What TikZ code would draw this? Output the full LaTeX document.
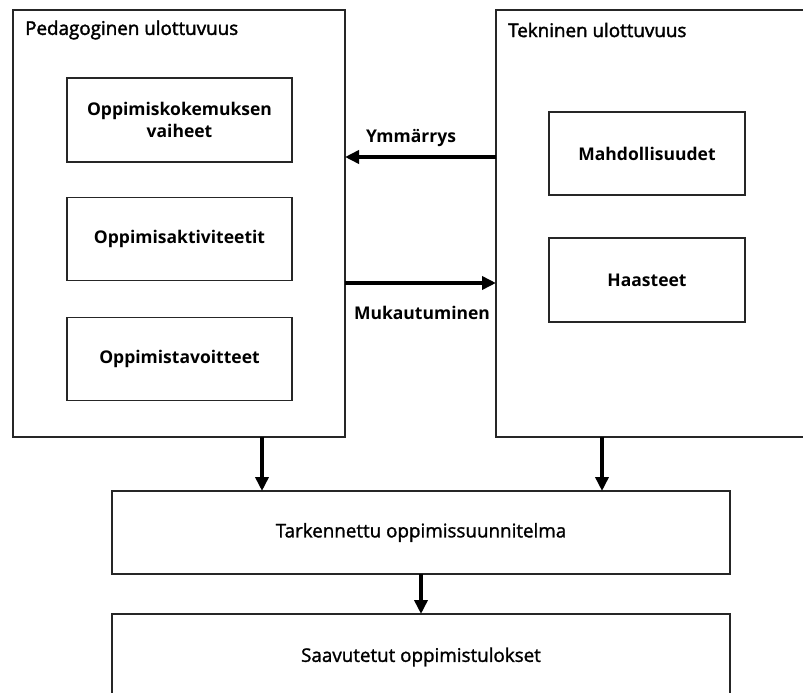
\documentclass[tikz,border=0pt]{standalone}
\usepackage{fontspec}
\setmainfont{Open Sans}
\newfontfamily\semib[FakeBold=2]{Open Sans}
\newfontfamily\medf[FakeBold=1.4]{Open Sans}
\usetikzlibrary{arrows.meta}
\begin{document}
\begin{tikzpicture}[x=1pt,y=-1pt,
  box/.style={draw=black!85,line width=1.6pt,rectangle,inner sep=0pt,outer sep=0pt,align=center},
  inbox/.style={box,font=\fontsize{17.5}{22}\selectfont\bfseries},
  lowbox/.style={box,font=\fontsize{18.8}{22}\selectfont\medf},
  ttl/.style={font=\fontsize{18.8}{20}\selectfont\semib,anchor=west,inner sep=0pt},
  lbl/.style={font=\fontsize{17.5}{20}\selectfont\bfseries,inner sep=0pt},
  arr/.style={line width=3.8pt,-{Triangle[length=14pt,width=13pt]}}]
\clip (0,0) rectangle (803,693);
\fill[white] (0,0) rectangle (803,693);
% big boxes
\node[box,minimum width=332pt,minimum height=427pt] (ped) at (179,223.5) {};
\node[box,minimum width=320pt,minimum height=427pt] (tek) at (656,223.5) {};
\node[ttl] (pedt) at (25,30) {Pedagoginen ulottuvuus};
\node[ttl] (tekt) at (508,30) {Tekninen ulottuvuus};
% inner left
\node[inbox,minimum width=225pt,minimum height=84pt] (vai) at (179.5,120) {Oppimiskokemuksen\\vaiheet};
\node[inbox,minimum width=225pt,minimum height=83pt] (akt) at (179.5,239) {Oppimisaktiviteetit};
\node[inbox,minimum width=225pt,minimum height=83pt] (tav) at (179.5,359) {Oppimistavoitteet};
% inner right
\node[inbox,minimum width=196pt,minimum height=83pt] (mah) at (647,153.5) {Mahdollisuudet};
\node[inbox,minimum width=196pt,minimum height=84pt] (haa) at (647,280) {Haasteet};
% lower
\node[lowbox,minimum width=618pt,minimum height=83pt] (tar) at (421,532.5) {Tarkennettu oppimissuunnitelma};
\node[lowbox,minimum width=618pt,minimum height=86pt] (saa) at (421,657) {Saavutetut oppimistulokset};
% horizontal arrows
\coordinate (y1) at (0,157);
\coordinate (y2) at (0,283);
\draw[arr] (tek.west |- y1) -- (ped.east |- y1);
\draw[arr] (ped.east |- y2) -- (tek.west |- y2);
\node[lbl] (ymm) at (411,138) {Ymmärrys};
\node[lbl] (muk) at (422,313) {Mukautuminen};
% vertical arrows
\coordinate (x1) at (262,0);
\coordinate (x2) at (602,0);
\coordinate (x3) at (421,0);
\draw[arr] (ped.south -| x1) -- (tar.north -| x1);
\draw[arr] (tek.south -| x2) -- (tar.north -| x2);
\draw[arr] (tar.south -| x3) -- (saa.north -| x3);
\end{tikzpicture}
\end{document}
